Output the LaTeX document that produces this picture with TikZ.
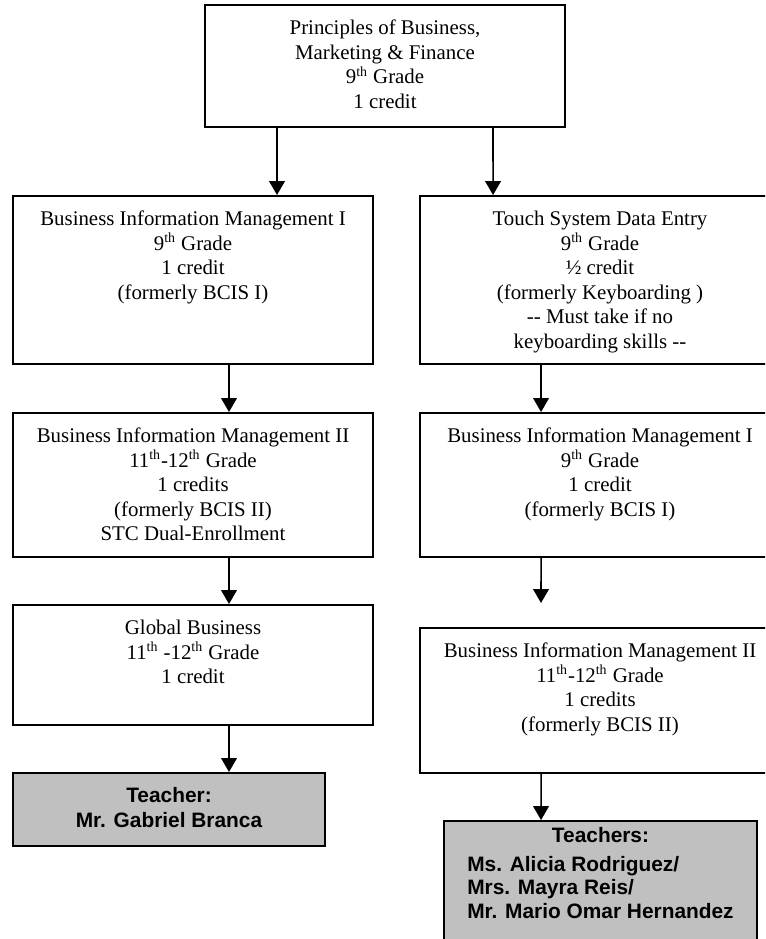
\documentclass[tikz,border=0pt]{standalone}
\usepackage{fontspec}
\setmainfont{Liberation Serif}
\newfontfamily\teachfont{Liberation Sans}
\usetikzlibrary{positioning,arrows.meta}
\definecolor{teachgray}{HTML}{C0C0C0}
\newcommand{\tha}{\textsuperscript{th}}

\begin{document}
\begin{tikzpicture}[x=0.575pt,y=-0.575pt,
  course/.style={draw,rectangle,line width=1.1pt,minimum width=207pt,inner sep=0pt},
  teach/.style={draw,rectangle,line width=1.1pt,fill=teachgray,inner sep=0pt},
  txt/.style={align=center,inner sep=0pt,font=\fontsize{12}{14.1}\selectfont},
  ttxt/.style={align=center,inner sep=0pt,font=\teachfont\bfseries\fontsize{12}{13.3}\selectfont},
  arr/.style={line width=0.9pt,-{Triangle[length=8pt,width=9pt]}}]
\useasboundingbox (0,0) rectangle (765,939);
\clip (0,0) rectangle (765,939);
% first course
\node[course,minimum height=70.2pt] (PBMF) at (385,66) {};
\node[txt,below=9pt of PBMF.north] (PBMFtext) {Principles of Business,\\Marketing \& Finance\\9\tha{} Grade\\1 credit};
% left column
\node[course,minimum height=96.6pt] (BIMa) at (193,280) {};
\node[txt,below=9pt of BIMa.north] (BIMatext) {Business Information Management I\\9\tha{} Grade\\1 credit\\(formerly BCIS I)};
\node[course,minimum height=82.8pt] (BIMb) at (193,485) {};
\node[txt,below=9pt of BIMb.north] (BIMbtext) {Business Information Management II\\11\tha-12\tha{} Grade\\1 credits\\(formerly BCIS II)\\STC Dual-Enrollment};
\node[course,minimum height=69pt] (GLOB) at (193,665) {};
\node[txt,below=9pt of GLOB.north] (GLOBtext) {Global Business\\11\tha{} -12\tha{} Grade\\1 credit};
\node[teach,minimum width=179.4pt,minimum height=42pt] (TCHa) at (169,809.5) {};
\node[ttxt,below=8.5pt of TCHa.north] (TCHatext) {Teacher:\\[1pt]Mr. Gabriel Branca};
% right column
\node[course,minimum height=96.6pt] (TSDE) at (600,280) {};
\node[txt,below=9pt of TSDE.north] (TSDEtext) {Touch System Data Entry\\9\tha{} Grade\\½ credit\\(formerly Keyboarding )\\-{}- Must take if no\\keyboarding skills -{}-};
\node[course,minimum height=82.8pt] (BIMc) at (600,485) {};
\node[txt,below=9pt of BIMc.north] (BIMctext) {Business Information Management I\\9\tha{} Grade\\1 credit\\(formerly BCIS I)};
\node[course,minimum height=83.4pt] (BIMd) at (600,700.5) {};
\node[txt,below=9pt of BIMd.north] (BIMdtext) {Business Information Management II\\11\tha-12\tha{} Grade\\1 credits\\(formerly BCIS II)};
\node[teach,minimum width=180pt,minimum height=77pt] (TCHb) at (600.5,888) {};
\node[ttxt,below=3.4pt of TCHb.north] (TCHbtext) {\begin{tabular}{@{}l@{}}\multicolumn{1}{@{}c@{}}{Teachers:}\\[3.5pt]Ms. Alicia Rodriguez/\\Mrs. Mayra Reis/\\Mr. Mario Omar Hernandez\end{tabular}};
\coordinate (gap) at (541,603);
% arrows
\draw[arr] ([xshift=-62.1pt]PBMF.south) -- ([xshift=48.3pt]BIMa.north);
\draw[arr] ([xshift=62.1pt]PBMF.south) -- ([xshift=-61.5pt]TSDE.north);
\draw[arr] ([xshift=20.7pt]BIMa.south) -- ([xshift=20.7pt]BIMb.north);
\draw[arr] ([xshift=20.7pt]BIMb.south) -- ([xshift=20.7pt]GLOB.north);
\draw[arr] ([xshift=20.7pt]GLOB.south) -- ([xshift=34.5pt]TCHa.north);
\draw[arr] ([xshift=-33.9pt]TSDE.south) -- ([xshift=-33.9pt]BIMc.north);
\draw[arr] ([xshift=-33.9pt]BIMc.south) -- (gap);
\draw[arr] ([xshift=-33.9pt]BIMd.south) -- ([xshift=-34.2pt]TCHb.north);
\end{tikzpicture}
\end{document}
